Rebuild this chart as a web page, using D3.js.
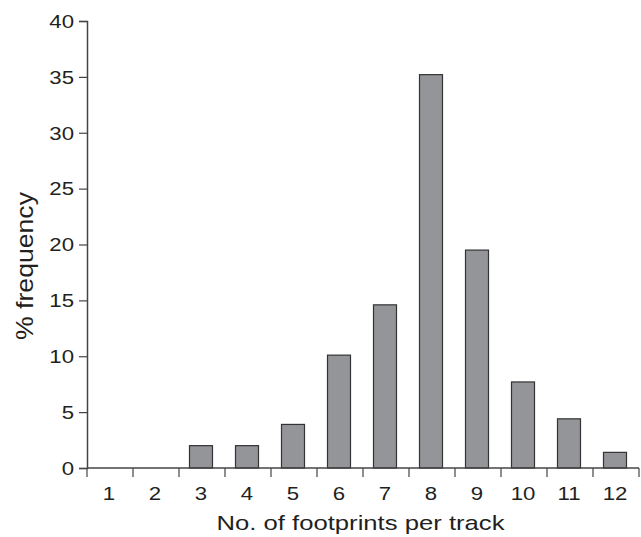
<!DOCTYPE html>
<html>
<head>
<meta charset="utf-8">
<script src="https://cdn.jsdelivr.net/npm/d3@7"></script>
<style>
  body { margin: 0; background: #fff; }
  text { font-family: "Liberation Sans", Arial, sans-serif; fill: #231f20; }
</style>
</head>
<body>
<div id="chart"></div>
<script>
// footprints per track vs % frequency
const footprints = ['1','2','3','4','5','6','7','8','9','10','11','12'];
const frequency  = [0, 0, 2, 2, 3.9, 10.1, 14.6, 35.2, 19.5, 7.7, 4.4, 1.4];
const yTicks = [0, 5, 10, 15, 20, 25, 30, 35, 40];

const data = footprints.map((k, i) => ({ k, v: frequency[i] }));

const W = 641, H = 537;
const margin = {top: 21, right: 2, bottom: 69, left: 87};
const sx = 1.2; // the lettering in the original is stretched sideways

const svg = d3.select('#chart').append('svg')
    .attr('width', W)
    .attr('height', H);

const x = d3.scaleBand()
  .domain(footprints)
  .range([margin.left, W - margin.right])
  .paddingInner(0.5)
  .paddingOuter(0.25);

const y = d3.scaleLinear()
  .domain([0, 40])
  .range([H - margin.bottom, margin.top]);

const axisColor = '#444';

// bars
svg.selectAll('rect.bar')
  .data(data.filter(d => d.v > 0))
  .enter().append('rect')
    .attr('class', 'bar')
    .attr('x', d => x(d.k) - 1)
    .attr('y', d => y(d.v))
    .attr('width', x.bandwidth())
    .attr('height', d => y(0) - y(d.v))
    .attr('fill', '#939598')
    .attr('stroke', '#333')
    .attr('stroke-width', 1.2);

// y axis
const yAxis = svg.append('g')
  .attr('transform', `translate(${margin.left},0)`)
  .call(d3.axisLeft(y).tickValues(yTicks).tickSize(8).tickPadding(6));
yAxis.select('.domain').attr('stroke', axisColor).attr('stroke-width', 1.5);
yAxis.selectAll('.tick line').attr('stroke', axisColor).attr('stroke-width', 1.2);
yAxis.selectAll('.tick text')
  .attr('x', -13 / sx)
  .attr('dy', '0.34em')
  .attr('transform', `scale(${sx},1)`)
  .attr('font-size', '18.5px')
  .attr('font-family', '"Liberation Sans", Arial, sans-serif')
  .attr('fill', '#231f20');

// x axis: ticks sit at band boundaries, labels at band centres
const xg = svg.append('g')
  .attr('transform', `translate(0,${y(0)})`);
xg.append('line')
  .attr('x1', margin.left).attr('x2', W - margin.right)
  .attr('stroke', axisColor).attr('stroke-width', 1.5);

const step = x.step();
const bounds = footprints.map(k => x(k) - (step - x.bandwidth()) / 2)
  .concat([x(footprints[footprints.length - 1]) + x.bandwidth() + (step - x.bandwidth()) / 2]);
xg.selectAll('line.tk')
  .data(bounds)
  .enter().append('line')
    .attr('class', 'tk')
    .attr('x1', d => d).attr('x2', d => d)
    .attr('y1', 0).attr('y2', 9)
    .attr('stroke', axisColor).attr('stroke-width', 1.2);

xg.selectAll('text.lbl')
  .data(footprints)
  .enter().append('text')
    .attr('class', 'lbl')
    .attr('transform', `scale(${sx},1)`)
    .attr('x', d => (x(d) + x.bandwidth() / 2 - 1) / sx)
    .attr('y', 32.5)
    .attr('text-anchor', 'middle')
    .attr('font-size', '18.5px')
    .text(d => d);

// axis titles
svg.append('text')
  .attr('x', 216.5)
  .attr('y', 530)
  .attr('font-size', '21px')
  .attr('textLength', 288)
  .attr('lengthAdjust', 'spacingAndGlyphs')
  .text('No. of footprints per track');

svg.append('text')
  .attr('transform', 'translate(33,340) rotate(-90)')
  .attr('font-size', '24px')
  .attr('textLength', 148)
  .attr('lengthAdjust', 'spacingAndGlyphs')
  .text('% frequency');
</script>
</body>
</html>
